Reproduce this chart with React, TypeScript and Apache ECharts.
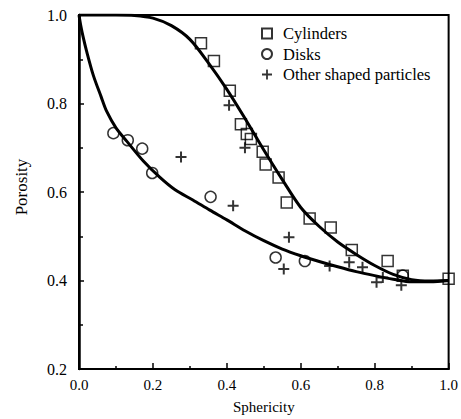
import React, { useEffect, useRef } from "react";
import * as echarts from "echarts";

const cylindersX = [0.33, 0.365, 0.408, 0.438, 0.454, 0.465, 0.497, 0.505, 0.54, 0.562, 0.624, 0.681, 0.738, 0.835, 0.876, 1.0];
const cylindersY = [0.936, 0.896, 0.829, 0.753, 0.731, 0.72, 0.691, 0.662, 0.633, 0.576, 0.54, 0.52, 0.469, 0.444, 0.411, 0.404];

const disksX = [0.093, 0.132, 0.171, 0.198, 0.356, 0.532, 0.611, 0.876];
const disksY = [0.733, 0.717, 0.698, 0.643, 0.589, 0.452, 0.444, 0.411];

const otherX = [0.276, 0.406, 0.449, 0.417, 0.568, 0.554, 0.678, 0.731, 0.767, 0.805, 0.822, 0.872];
const otherY = [0.679, 0.796, 0.70, 0.569, 0.498, 0.426, 0.433, 0.441, 0.43, 0.396, 0.407, 0.389];

const cylCurveX = [0, 0.1, 0.15, 0.2, 0.25, 0.3, 0.35, 0.4, 0.45, 0.5, 0.55, 0.6, 0.65, 0.7, 0.75, 0.8, 0.85, 0.9, 0.95, 1.0];
const cylCurveY = [1.0, 1.0, 0.999, 0.993, 0.976, 0.945, 0.892, 0.832, 0.765, 0.695, 0.628, 0.565, 0.522, 0.487, 0.459, 0.434, 0.414, 0.402, 0.399, 0.4];

const diskCurveX = [0, 0.005, 0.011, 0.02, 0.039, 0.06, 0.075, 0.1, 0.129, 0.174, 0.219, 0.26, 0.308, 0.354, 0.4, 0.45, 0.5, 0.55, 0.6, 0.65, 0.7, 0.75, 0.8, 0.85, 0.9, 0.95, 1.0];
const diskCurveY = [1.0, 0.975, 0.951, 0.92, 0.863, 0.815, 0.782, 0.745, 0.715, 0.67, 0.633, 0.605, 0.582, 0.559, 0.537, 0.512, 0.49, 0.471, 0.456, 0.443, 0.431, 0.42, 0.411, 0.403, 0.397, 0.397, 0.4];

const xTicks = ["0.0", "0.2", "0.4", "0.6", "0.8", "1.0"];
const yTicks = ["0.2", "0.4", "0.6", "0.8", "1.0"];

const FONT = "Liberation Serif, serif";
const PLUS = "path://M4.5,0H6.5V4.5H11V6.5H6.5V11H4.5V6.5H0V4.5H4.5Z";

const zip = (xs: number[], ys: number[]) => xs.map((x, i) => [x, ys[i]]);

export default function App() {
  const ref = useRef<HTMLDivElement>(null);
  useEffect(() => {
    if (!ref.current) return;
    const chart = echarts.init(ref.current, null, { renderer: "svg" });
    const markerStyle = { color: "transparent", borderColor: "#000", borderWidth: 1.5 };
    chart.setOption({
      animation: false,
      backgroundColor: "#fff",
      textStyle: { fontFamily: FONT },
      grid: { left: 79, right: 10, top: 15, bottom: 43, show: true, borderColor: "#000", borderWidth: 2 },
      legend: {
        orient: "vertical",
        left: 256,
        top: 20,
        itemWidth: 10,
        itemHeight: 10,
        itemGap: 3.5,
        textStyle: { fontFamily: FONT, fontSize: 16.5, color: "#000", padding: [0, 0, 0, 6] },
        data: ["Cylinders", "Disks", "Other shaped particles"],
      },
      xAxis: {
        type: "value",
        min: 0,
        max: 1,
        interval: 0.2,
        name: "Sphericity",
        nameLocation: "middle",
        nameGap: 30,
        nameTextStyle: { fontFamily: FONT, fontSize: 15, color: "#000" },
        axisLine: { show: true, lineStyle: { color: "#000", width: 2 } },
        axisTick: { show: true, inside: true, length: 6, lineStyle: { color: "#000", width: 1.5 } },
        minorTick: { show: true, splitNumber: 2, length: 3, lineStyle: { color: "#000", width: 1.5 } },
        splitLine: { show: false },
        axisLabel: {
          margin: 8,
          fontFamily: FONT,
          fontSize: 15,
          color: "#000",
          formatter: (v: number) => xTicks.find((t) => Math.abs(parseFloat(t) - v) < 1e-6) ?? "",
        },
      },
      yAxis: {
        type: "value",
        min: 0.2,
        max: 1.0,
        interval: 0.2,
        name: "Porosity",
        nameLocation: "middle",
        nameGap: 49,
        nameTextStyle: { fontFamily: FONT, fontSize: 17, color: "#000", padding: [0, 0, 0, 10] },
        axisLine: { show: true, lineStyle: { color: "#000", width: 2.5 } },
        axisTick: { show: true, inside: true, length: 5, lineStyle: { color: "#000", width: 1.5 } },
        minorTick: { show: true, splitNumber: 2, length: 4, lineStyle: { color: "#000", width: 1.5 } },
        splitLine: { show: false },
        axisLabel: {
          margin: 12,
          fontFamily: FONT,
          fontSize: 16,
          color: "#000",
          formatter: (v: number) => yTicks.find((t) => Math.abs(parseFloat(t) - v) < 1e-6) ?? "",
        },
      },
      series: [
        {
          name: "cylCurve",
          type: "line",
          data: zip(cylCurveX, cylCurveY),
          smooth: 0.3,
          showSymbol: false,
          lineStyle: { color: "#000", width: 3 },
          z: 1,
        },
        {
          name: "diskCurve",
          type: "line",
          data: zip(diskCurveX, diskCurveY),
          smooth: 0.3,
          showSymbol: false,
          lineStyle: { color: "#000", width: 3 },
          z: 1,
        },
        {
          name: "Cylinders",
          type: "scatter",
          symbol: "rect",
          symbolSize: 11,
          itemStyle: markerStyle,
          data: zip(cylindersX, cylindersY),
          z: 3,
        },
        {
          name: "Disks",
          type: "scatter",
          symbol: "circle",
          symbolSize: 11,
          itemStyle: markerStyle,
          data: zip(disksX, disksY),
          z: 3,
        },
        {
          name: "Other shaped particles",
          type: "scatter",
          symbol: PLUS,
          symbolSize: 11,
          itemStyle: { color: "#000" },
          data: zip(otherX, otherY),
          z: 3,
        },
      ],
    });
    return () => chart.dispose();
  }, []);
  return <div ref={ref} style={{ width: 461, height: 419, position: "absolute", left: 0, top: 0 }} />;
}
